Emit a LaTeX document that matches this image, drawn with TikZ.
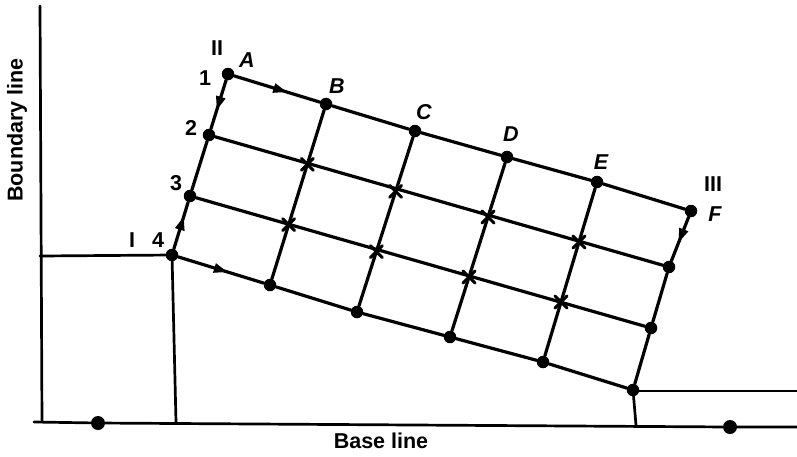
\documentclass[tikz,border=0pt]{standalone}
\usepackage{fontspec}
\setmainfont{Liberation Sans}
\usetikzlibrary{calc,decorations.markings,arrows.meta,shapes.misc}
\begin{document}
\begin{tikzpicture}[x=1pt,y=-1pt,line cap=round,line join=round,
  gridline/.style={line width=3.2pt},
  frameline/.style={line width=2.7pt},
  dot/.style={circle,fill=black,inner sep=0pt,minimum size=12.5pt},
  bigdot/.style={circle,fill=black,inner sep=0pt,minimum size=14pt},
  xmark/.style={cross out,draw,line width=3pt,inner sep=0pt,minimum size=9pt},
  lbl/.style={font=\fontsize{21.5}{21.5}\selectfont\bfseries},
  ilbl/.style={font=\fontsize{21.5}{21.5}\selectfont\bfseries\itshape},
  midarrow/.style={postaction={decorate},decoration={markings,
    mark=at position #1 with {\arrow{Triangle[length=14pt,width=9pt]}}}}
]
\useasboundingbox (0,0) rectangle (797,456);

% outer frame lines
\coordinate (btop) at (40,6);
\coordinate (bbot) at (42,422);
\coordinate (baseL) at (34,422);
\coordinate (baseR) at (797,427);
\coordinate (ledgeL) at (40,256);
\coordinate (footL) at (176,422);
\coordinate (footR) at (636,425);
\coordinate (ledgeRa) at (634,391);
\coordinate (ledgeRb) at (797,391);

% grid points
\node[dot] (A) at (228,74) {};
\node[dot] (B) at (326,104) {};
\node[dot] (C) at (415,131) {};
\node[dot] (D) at (507,157) {};
\node[dot] (E) at (597,182) {};
\node[dot] (F) at (691,211) {};
\node[dot] (L2) at (209,135) {};
\node[dot] (L3) at (190,196) {};
\node[dot] (L4) at (172,255) {};
\node[dot] (R2) at (669,267) {};
\node[dot] (R3) at (651,328) {};
\node[dot] (BR) at (633,390) {};
\node[dot] (b1) at (270,285) {};
\node[dot] (b2) at (357,312) {};
\node[dot] (b3) at (450,337) {};
\node[dot] (b4) at (543,362) {};

\node[bigdot] (g1) at (98,423) {};
\node[bigdot] (g2) at (730,427) {};

\draw[frameline] (btop) -- (bbot);
\draw[frameline] (baseL) -- (g1) -- (g2) -- (baseR);
\draw[frameline] (ledgeL) -- (L4) -- (footL);
\draw[frameline] (BR) -- (footR);
\draw[frameline] (ledgeRa) -- (ledgeRb);

% grid edges
\draw[gridline,midarrow=0.62] (A) -- (B);
\draw[gridline] (B) -- (C) -- (D) -- (E) -- (F);
\draw[gridline,midarrow=0.62] (A) -- (L2);
\draw[gridline] (L2) -- (L3);
\draw[gridline,midarrow=0.7] (L4) -- (L3);
\draw[gridline,midarrow=0.58] (L4) -- (b1);
\draw[gridline] (b1) -- (b2) -- (b3) -- (b4) -- (BR);
\draw[gridline,midarrow=0.58] (F) -- (R2);
\draw[gridline] (R2) -- (R3) -- (BR);
\draw[gridline] (L2) -- (R2);
\draw[gridline] (L3) -- (R3);
\draw[gridline] (B) -- (b1);
\draw[gridline] (C) -- (b2);
\draw[gridline] (D) -- (b3);
\draw[gridline] (E) -- (b4);

% crossing marks
\node[xmark] (x1) at ($(B)!1/3!(b1)$) {};
\node[xmark] (x2) at ($(C)!1/3!(b2)$) {};
\node[xmark] (x3) at ($(D)!1/3!(b3)$) {};
\node[xmark] (x4) at ($(E)!1/3!(b4)$) {};
\node[xmark] (y1) at ($(B)!2/3!(b1)$) {};
\node[xmark] (y2) at ($(C)!2/3!(b2)$) {};
\node[xmark] (y3) at ($(D)!2/3!(b3)$) {};
\node[xmark] (y4) at ($(E)!2/3!(b4)$) {};

% labels
\node[lbl] (tII) at (217,48) {II};
\node[ilbl] (tA) at (247,60) {A};
\node[lbl] (t1) at (205,78) {1};
\node[lbl] (t2) at (191,128) {2};
\node[lbl] (t3) at (176,183) {3};
\node[lbl] (tI) at (132,240) {I};
\node[lbl] (t4) at (158,240) {4};
\node[ilbl] (tB) at (337,86) {B};
\node[ilbl] (tC) at (424,112) {C};
\node[ilbl] (tD) at (511,134) {D};
\node[ilbl] (tE) at (601,162) {E};
\node[lbl] (tIII) at (713,184) {III};
\node[ilbl] (tF) at (715,214) {F};
\node[lbl] (base) at (381,441) {Base line};
\node[lbl,rotate=90] (bound) at (17,130) {Boundary line};
\end{tikzpicture}
\end{document}
